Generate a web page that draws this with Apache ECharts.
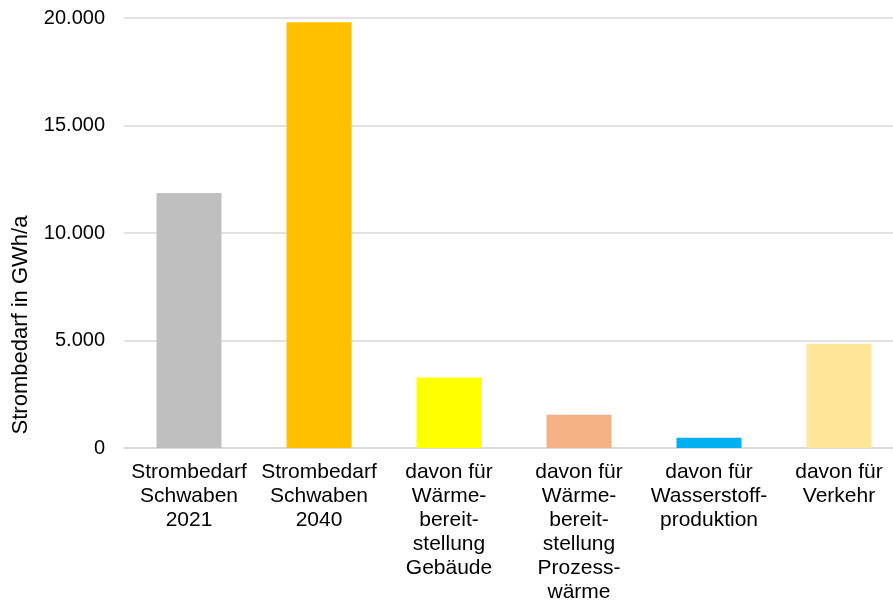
<!DOCTYPE html>
<html>
<head>
<meta charset="utf-8">
<script src="https://cdn.jsdelivr.net/npm/echarts@6/dist/echarts.min.js"></script>
<style>
  html, body { margin: 0; padding: 0; background: #fff; }
  #chart { width: 893px; height: 600px; }
</style>
</head>
<body>
<div id="chart"></div>
<script>
// Strombedarf in Schwaben (GWh/a)
const categories = [
  'Strombedarf\nSchwaben\n2021',
  'Strombedarf\nSchwaben\n2040',
  'davon für\nWärme-\nbereit-\nstellung\nGebäude',
  'davon für\nWärme-\nbereit-\nstellung\nProzess-\nwärme',
  'davon für\nWasserstoff-\nproduktion',
  'davon für\nVerkehr'
];
const values = [11860, 19800, 3280, 1550, 480, 4850];
const barColors = ['#BFBFBF', '#FFC000', '#FFFF00', '#F4B183', '#00B0F0', '#FFE699'];
const yTicks = { min: 0, max: 20000, interval: 5000 };
const yTitle = 'Strombedarf in GWh/a';

const fontFamily = '"Liberation Sans", Arial, sans-serif';

function formatThousands(v) {
  return String(v).replace(/\B(?=(\d{3})+(?!\d))/g, '.');
}

const chart = echarts.init(document.getElementById('chart'), null, { renderer: 'canvas' });

chart.setOption({
  animation: false,
  backgroundColor: '#ffffff',
  textStyle: { fontFamily: fontFamily, color: '#000' },
  grid: {
    left: 124, top: 18, width: 780, height: 430,
    containLabel: false,
    outerBoundsMode: 'none'
  },
  xAxis: {
    type: 'category',
    data: categories,
    axisLine: { show: true, lineStyle: { color: '#D9D9D9', width: 1.5 } },
    axisTick: { show: false },
    axisLabel: {
      interval: 0,
      margin: 12,
      color: '#000',
      fontSize: 21,
      lineHeight: 24,
      fontFamily: fontFamily,
      align: 'center'
    }
  },
  yAxis: {
    type: 'value',
    min: yTicks.min,
    max: yTicks.max,
    interval: yTicks.interval,
    axisLine: { show: false },
    axisTick: { show: false },
    splitLine: { show: true, lineStyle: { color: '#D9D9D9', width: 1.5 } },
    axisLabel: {
      margin: 19,
      color: '#000',
      fontSize: 20,
      fontFamily: fontFamily,
      formatter: formatThousands
    }
  },
  graphic: [{
    type: 'text',
    x: 21,
    y: 325,
    rotation: Math.PI / 2,
    style: {
      text: yTitle,
      fill: '#000',
      font: '22px ' + fontFamily,
      textAlign: 'center',
      textVerticalAlign: 'middle'
    }
  }],
  series: [{
    type: 'bar',
    barWidth: '50%',
    data: values.map((v, i) => ({ value: v, itemStyle: { color: barColors[i] } }))
  }]
});
</script>
</body>
</html>
